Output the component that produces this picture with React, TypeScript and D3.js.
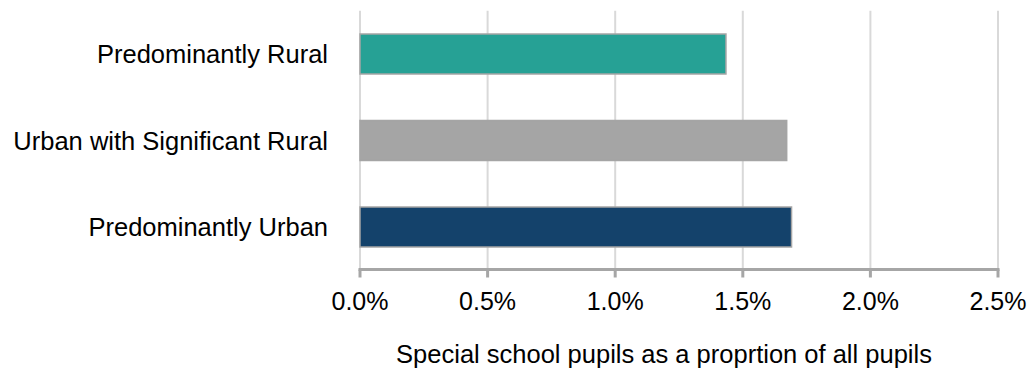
import React from "react";
import * as d3 from "d3";

const categories = ["Predominantly Rural", "Urban with Significant Rural", "Predominantly Urban"];
const values = [0.01434, 0.01672, 0.01691];
const barColors = ["#26a195", "#a5a5a5", "#14426b"];
const ticks = [0, 0.005, 0.01, 0.015, 0.02, 0.025];
const axisTitle = "Special school pupils as a proprtion of all pupils";

const W = 1030;
const H = 372;
const left = 360;
const right = 998;
const top = 10.75;
const bottom = 270.25;
const font = "Arial, 'Liberation Sans', sans-serif";

export default function App() {
  const x = d3.scaleLinear().domain([0, 0.025]).range([left, right]);
  const y = d3
    .scaleBand<string>()
    .domain(categories)
    .range([top, bottom])
    .paddingInner(0.5376)
    .paddingOuter(0.2688);
  const fmt = d3.format(".1%");
  const axisY = 269.5;

  return (
    <svg
      width={W}
      height={H}
      style={{ position: "absolute", left: 0, top: 0, background: "#fff" }}
      fontFamily={font}
    >
      <rect width={W} height={H} fill="#fff" />
      {ticks.map((t) => (
        <line key={"g" + t} x1={x(t)} x2={x(t)} y1={top} y2={axisY} stroke="#d9d9d9" strokeWidth={2} />
      ))}
      {categories.map((c, i) => (
        <rect
          key={c}
          x={x(0)}
          y={y(c)}
          width={x(values[i]) - x(0)}
          height={y.bandwidth()}
          fill={barColors[i]}
          stroke="#a5a5a5"
          strokeWidth={1.5}
        />
      ))}
      <line x1={x(0) - 1.5} x2={x(0.025) + 1.5} y1={axisY} y2={axisY} stroke="#a6a6a6" strokeWidth={3} />
      {ticks.map((t) => (
        <line key={"t" + t} x1={x(t)} x2={x(t)} y1={axisY} y2={277.5} stroke="#a6a6a6" strokeWidth={3} />
      ))}
      {ticks.map((t) => (
        <text key={"l" + t} x={x(t)} y={310} textAnchor="middle" fontSize={25} fill="#000">
          {fmt(t)}
        </text>
      ))}
      {categories.map((c) => (
        <text
          key={"c" + c}
          x={328}
          y={(y(c) as number) + y.bandwidth() / 2}
          dy="0.36em"
          textAnchor="end"
          fontSize={25.5}
          fill="#000"
        >
          {c}
        </text>
      ))}
      <text x={664} y={363} textAnchor="middle" fontSize={25.5} fill="#000">
        {axisTitle}
      </text>
    </svg>
  );
}
